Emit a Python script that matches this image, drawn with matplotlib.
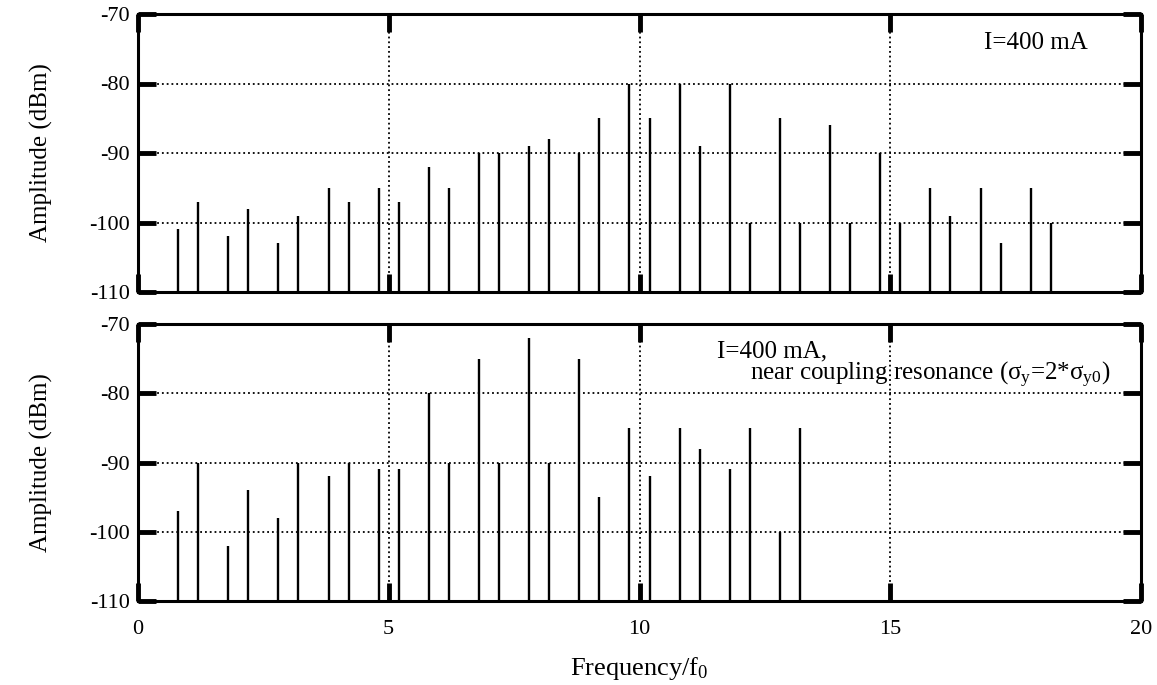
import matplotlib.pyplot as plt

plt.rcParams['font.family'] = ['Liberation Serif', 'DejaVu Serif']
plt.rcParams['axes.unicode_minus'] = False
plt.rcParams['mathtext.fontset'] = 'custom'
plt.rcParams['mathtext.rm'] = 'Liberation Serif'
plt.rcParams['mathtext.it'] = 'Liberation Serif'

# Betatron sideband lines, frequency in units of f0
freq_top = [0.8, 1.2, 1.8, 2.2, 2.8, 3.2, 3.8, 4.2, 4.8, 5.2, 5.8, 6.2,
            6.8, 7.2, 7.8, 8.2, 8.8, 9.2, 9.8, 10.2, 10.8, 11.2, 11.8, 12.2,
            12.8, 13.2, 13.8, 14.2, 14.8, 15.2, 15.8, 16.2, 16.8, 17.2, 17.8, 18.2]
amp_top = [-101, -97, -102, -98, -103, -99, -95, -97, -95, -97, -92, -95,
           -90, -90, -89, -88, -90, -85, -80, -85, -80, -89, -80, -100,
           -85, -100, -86, -100, -90, -100, -95, -99, -95, -103, -95, -100]

freq_bot = [0.8, 1.2, 1.8, 2.2, 2.8, 3.2, 3.8, 4.2, 4.8, 5.2, 5.8, 6.2,
            6.8, 7.2, 7.8, 8.2, 8.8, 9.2, 9.8, 10.2, 10.8, 11.2, 11.8, 12.2,
            12.8, 13.2]
amp_bot = [-97, -90, -102, -94, -98, -90, -92, -90, -91, -91, -80, -90,
           -75, -90, -72, -90, -75, -95, -85, -92, -85, -88, -91, -85,
           -100, -85]

xticks = [0, 5, 10, 15, 20]
yticks = [-110, -100, -90, -80, -70]

fig = plt.figure(figsize=(11.57, 6.85), dpi=100)
W, H = 1157, 685
ax1 = fig.add_axes([138 / W, 1 - 292 / H, 1003 / W, 278 / H])
ax2 = fig.add_axes([138 / W, 1 - 601 / H, 1003 / W, 277 / H])

for ax, f, a in [(ax1, freq_top, amp_top), (ax2, freq_bot, amp_bot)]:
    ax.vlines(f, -110, a, color='black', lw=1.7)
    ax.set_xlim(0, 20)
    ax.set_ylim(-110, -70)
    ax.set_xticks(xticks)
    ax.set_yticks(yticks)
    ax.grid(True, color='black', linestyle=':', linewidth=1.3)
    ax.tick_params(direction='in', length=13, width=3.5, top=True, right=True,
                   labelsize=16, pad=6)
    for s in ax.spines.values():
        s.set_linewidth(2.2)
    ax.set_ylabel('Amplitude (dBm)', fontsize=18, labelpad=26)

ax1.tick_params(labelbottom=False)
ax2.tick_params(axis='x', pad=14)
ax2.set_xlabel('Frequency/f$_0$', fontsize=19, labelpad=11)

ax1.text(0.895, 0.896, 'I=400 mA', transform=ax1.transAxes, fontsize=18,
         ha='center', va='center')
ax2.text(0.577, 0.9, 'I=400 mA,', transform=ax2.transAxes, fontsize=18,
         ha='left', va='center')
ax2.text(0.61, 0.815, r'near coupling resonance ($\sigma_y$=2*$\sigma_{y0}$)',
         transform=ax2.transAxes, fontsize=18, ha='left', va='center')

fig.savefig('out.png', dpi=100)
